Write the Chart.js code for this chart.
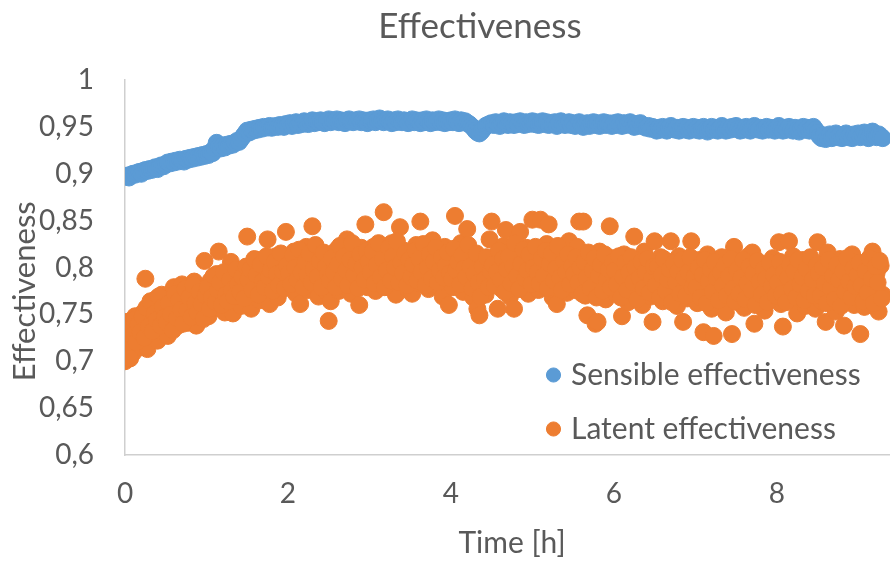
<!DOCTYPE html>
<html>
<head>
<meta charset="utf-8">
<title>Effectiveness</title>
<script src="https://cdn.jsdelivr.net/npm/chart.js@4/dist/chart.umd.min.js"></script>
<style>
  html, body { margin:0; padding:0; background:#fff; overflow:hidden; }
  #wrap { width:890px; height:563px; overflow:hidden; }
  canvas { display:block; }
</style>
</head>
<body>
<div id="wrap"><canvas id="effChart" width="960" height="563"></canvas></div>
<script>
// ── DATA ──────────────────────────────────────────────────
// time stamps [h], one reading every 1.5 min
const times = [
  0, 0.025, 0.05, 0.075, 0.1, 0.125, 0.15, 0.175, 0.2, 0.225, 0.25, 0.275, 0.3, 0.325, 0.35, 0.375, 0.4, 0.425, 0.45, 0.475,
  0.5, 0.525, 0.55, 0.575, 0.6, 0.625, 0.65, 0.675, 0.7, 0.725, 0.75, 0.775, 0.8, 0.825, 0.85, 0.875, 0.9, 0.925, 0.95, 0.975,
  1, 1.025, 1.05, 1.075, 1.1, 1.125, 1.15, 1.175, 1.2, 1.225, 1.25, 1.275, 1.3, 1.325, 1.35, 1.375, 1.4, 1.425, 1.45, 1.475,
  1.5, 1.525, 1.55, 1.575, 1.6, 1.625, 1.65, 1.675, 1.7, 1.725, 1.75, 1.775, 1.8, 1.825, 1.85, 1.875, 1.9, 1.925, 1.95, 1.975,
  2, 2.025, 2.05, 2.075, 2.1, 2.125, 2.15, 2.175, 2.2, 2.225, 2.25, 2.275, 2.3, 2.325, 2.35, 2.375, 2.4, 2.425, 2.45, 2.475,
  2.5, 2.525, 2.55, 2.575, 2.6, 2.625, 2.65, 2.675, 2.7, 2.725, 2.75, 2.775, 2.8, 2.825, 2.85, 2.875, 2.9, 2.925, 2.95, 2.975,
  3, 3.025, 3.05, 3.075, 3.1, 3.125, 3.15, 3.175, 3.2, 3.225, 3.25, 3.275, 3.3, 3.325, 3.35, 3.375, 3.4, 3.425, 3.45, 3.475,
  3.5, 3.525, 3.55, 3.575, 3.6, 3.625, 3.65, 3.675, 3.7, 3.725, 3.75, 3.775, 3.8, 3.825, 3.85, 3.875, 3.9, 3.925, 3.95, 3.975,
  4, 4.025, 4.05, 4.075, 4.1, 4.125, 4.15, 4.175, 4.2, 4.225, 4.25, 4.275, 4.3, 4.325, 4.35, 4.375, 4.4, 4.425, 4.45, 4.475,
  4.5, 4.525, 4.55, 4.575, 4.6, 4.625, 4.65, 4.675, 4.7, 4.725, 4.75, 4.775, 4.8, 4.825, 4.85, 4.875, 4.9, 4.925, 4.95, 4.975,
  5, 5.025, 5.05, 5.075, 5.1, 5.125, 5.15, 5.175, 5.2, 5.225, 5.25, 5.275, 5.3, 5.325, 5.35, 5.375, 5.4, 5.425, 5.45, 5.475,
  5.5, 5.525, 5.55, 5.575, 5.6, 5.625, 5.65, 5.675, 5.7, 5.725, 5.75, 5.775, 5.8, 5.825, 5.85, 5.875, 5.9, 5.925, 5.95, 5.975,
  6, 6.025, 6.05, 6.075, 6.1, 6.125, 6.15, 6.175, 6.2, 6.225, 6.25, 6.275, 6.3, 6.325, 6.35, 6.375, 6.4, 6.425, 6.45, 6.475,
  6.5, 6.525, 6.55, 6.575, 6.6, 6.625, 6.65, 6.675, 6.7, 6.725, 6.75, 6.775, 6.8, 6.825, 6.85, 6.875, 6.9, 6.925, 6.95, 6.975,
  7, 7.025, 7.05, 7.075, 7.1, 7.125, 7.15, 7.175, 7.2, 7.225, 7.25, 7.275, 7.3, 7.325, 7.35, 7.375, 7.4, 7.425, 7.45, 7.475,
  7.5, 7.525, 7.55, 7.575, 7.6, 7.625, 7.65, 7.675, 7.7, 7.725, 7.75, 7.775, 7.8, 7.825, 7.85, 7.875, 7.9, 7.925, 7.95, 7.975,
  8, 8.025, 8.05, 8.075, 8.1, 8.125, 8.15, 8.175, 8.2, 8.225, 8.25, 8.275, 8.3, 8.325, 8.35, 8.375, 8.4, 8.425, 8.45, 8.475,
  8.5, 8.525, 8.55, 8.575, 8.6, 8.625, 8.65, 8.675, 8.7, 8.725, 8.75, 8.775, 8.8, 8.825, 8.85, 8.875, 8.9, 8.925, 8.95, 8.975,
  9, 9.025, 9.05, 9.075, 9.1, 9.125, 9.15, 9.175, 9.2, 9.225, 9.25, 9.275, 9.3
];

const sensible = [
  0.897, 0.898, 0.896, 0.899, 0.900, 0.899, 0.901, 0.902, 0.900, 0.903, 0.904, 0.903, 0.905, 0.904, 0.906, 0.907, 0.905, 0.908, 0.909, 0.908,
  0.910, 0.912, 0.911, 0.913, 0.912, 0.914, 0.913, 0.915, 0.914, 0.913, 0.916, 0.915, 0.917, 0.916, 0.918, 0.917, 0.919, 0.918, 0.920, 0.919,
  0.921, 0.920, 0.923, 0.922, 0.927, 0.933, 0.929, 0.927, 0.930, 0.928, 0.931, 0.930, 0.932, 0.931, 0.933, 0.935, 0.934, 0.937, 0.940, 0.943,
  0.946, 0.944, 0.947, 0.946, 0.948, 0.947, 0.949, 0.948, 0.950, 0.949, 0.950, 0.951, 0.949, 0.950, 0.951, 0.950, 0.952, 0.951, 0.950, 0.953,
  0.952, 0.954, 0.951, 0.953, 0.955, 0.952, 0.954, 0.953, 0.956, 0.954, 0.953, 0.955, 0.957, 0.954, 0.956, 0.955, 0.957, 0.955, 0.954, 0.956,
  0.958, 0.955, 0.957, 0.956, 0.958, 0.955, 0.957, 0.956, 0.954, 0.957, 0.958, 0.956, 0.955, 0.957, 0.956, 0.958, 0.955, 0.957, 0.956, 0.954,
  0.957, 0.956, 0.958, 0.955, 0.957, 0.959, 0.956, 0.955, 0.957, 0.958, 0.956, 0.954, 0.957, 0.955, 0.958, 0.956, 0.955, 0.957, 0.956, 0.954,
  0.956, 0.958, 0.955, 0.957, 0.956, 0.954, 0.957, 0.955, 0.958, 0.956, 0.954, 0.957, 0.955, 0.956, 0.958, 0.955, 0.957, 0.954, 0.956, 0.955,
  0.957, 0.955, 0.958, 0.956, 0.954, 0.957, 0.955, 0.956, 0.954, 0.953, 0.951, 0.949, 0.946, 0.944, 0.943, 0.945, 0.948, 0.951, 0.952, 0.953,
  0.954, 0.952, 0.955, 0.953, 0.951, 0.954, 0.956, 0.953, 0.952, 0.955, 0.954, 0.952, 0.955, 0.953, 0.956, 0.954, 0.952, 0.955, 0.953, 0.954,
  0.956, 0.953, 0.955, 0.952, 0.954, 0.956, 0.953, 0.955, 0.952, 0.954, 0.953, 0.955, 0.951, 0.954, 0.956, 0.953, 0.952, 0.954, 0.955, 0.952,
  0.954, 0.951, 0.953, 0.955, 0.952, 0.950, 0.953, 0.954, 0.951, 0.953, 0.955, 0.952, 0.954, 0.951, 0.953, 0.955, 0.952, 0.954, 0.953, 0.951,
  0.954, 0.952, 0.955, 0.953, 0.951, 0.954, 0.952, 0.953, 0.955, 0.952, 0.950, 0.953, 0.951, 0.954, 0.952, 0.950, 0.949, 0.951, 0.948, 0.950,
  0.948, 0.946, 0.949, 0.947, 0.950, 0.948, 0.946, 0.949, 0.951, 0.948, 0.947, 0.949, 0.946, 0.948, 0.950, 0.947, 0.949, 0.946, 0.948, 0.950,
  0.947, 0.949, 0.946, 0.948, 0.950, 0.947, 0.945, 0.948, 0.950, 0.947, 0.949, 0.946, 0.948, 0.951, 0.948, 0.946, 0.949, 0.947, 0.950, 0.948,
  0.951, 0.948, 0.946, 0.949, 0.947, 0.950, 0.948, 0.946, 0.949, 0.951, 0.948, 0.947, 0.949, 0.946, 0.948, 0.950, 0.947, 0.949, 0.948, 0.946,
  0.949, 0.951, 0.948, 0.946, 0.949, 0.947, 0.950, 0.948, 0.946, 0.949, 0.947, 0.945, 0.948, 0.950, 0.947, 0.949, 0.946, 0.948, 0.950, 0.947,
  0.944, 0.940, 0.938, 0.941, 0.937, 0.939, 0.942, 0.938, 0.940, 0.943, 0.939, 0.941, 0.938, 0.940, 0.943, 0.939, 0.941, 0.938, 0.942, 0.940,
  0.943, 0.939, 0.941, 0.944, 0.940, 0.938, 0.942, 0.945, 0.941, 0.939, 0.942, 0.940, 0.938
];

const latent = [
  0.700, 0.742, 0.718, 0.731, 0.709, 0.748, 0.726, 0.737, 0.715, 0.752, 0.788, 0.713, 0.741, 0.758, 0.729, 0.766, 0.722, 0.749, 0.771, 0.736,
  0.752, 0.727, 0.768, 0.744, 0.779, 0.757, 0.738, 0.771, 0.782, 0.749, 0.763, 0.741, 0.776, 0.758, 0.785, 0.738, 0.767, 0.751, 0.779, 0.807,
  0.762, 0.748, 0.786, 0.771, 0.757, 0.793, 0.817, 0.765, 0.779, 0.752, 0.788, 0.772, 0.806, 0.751, 0.783, 0.766, 0.797, 0.759, 0.781, 0.792,
  0.833, 0.772, 0.756, 0.796, 0.781, 0.808, 0.765, 0.789, 0.801, 0.774, 0.830, 0.761, 0.794, 0.783, 0.812, 0.768, 0.799, 0.786, 0.807, 0.838,
  0.779, 0.805, 0.791, 0.817, 0.772, 0.798, 0.761, 0.809, 0.785, 0.822, 0.776, 0.803, 0.844, 0.788, 0.814, 0.769, 0.797, 0.782, 0.811, 0.774,
  0.743, 0.764, 0.801, 0.787, 0.819, 0.775, 0.796, 0.808, 0.782, 0.830, 0.791, 0.772, 0.815, 0.799, 0.784, 0.760, 0.821, 0.793, 0.846, 0.779,
  0.806, 0.788, 0.822, 0.775, 0.811, 0.797, 0.783, 0.859, 0.814, 0.779, 0.802, 0.826, 0.791, 0.771, 0.809, 0.843, 0.786, 0.818, 0.798, 0.776,
  0.812, 0.772, 0.795, 0.824, 0.783, 0.849, 0.806, 0.789, 0.817, 0.777, 0.801, 0.829, 0.792, 0.781, 0.813, 0.798, 0.769, 0.822, 0.787, 0.760,
  0.803, 0.779, 0.855, 0.815, 0.791, 0.826, 0.774, 0.808, 0.841, 0.786, 0.812, 0.768, 0.797, 0.756, 0.749, 0.782, 0.805, 0.771, 0.793, 0.830,
  0.849, 0.788, 0.812, 0.756, 0.801, 0.777, 0.823, 0.840, 0.794, 0.769, 0.816, 0.756, 0.785, 0.808, 0.838, 0.779, 0.799, 0.821, 0.772, 0.806,
  0.851, 0.789, 0.814, 0.776, 0.851, 0.802, 0.783, 0.825, 0.846, 0.792, 0.768, 0.811, 0.761, 0.797, 0.819, 0.781, 0.805, 0.773, 0.828, 0.790,
  0.808, 0.776, 0.822, 0.849, 0.795, 0.849, 0.770, 0.749, 0.813, 0.786, 0.799, 0.740, 0.742, 0.817, 0.781, 0.803, 0.766, 0.791, 0.844, 0.810,
  0.785, 0.772, 0.806, 0.793, 0.748, 0.814, 0.779, 0.763, 0.799, 0.787, 0.833, 0.771, 0.808, 0.792, 0.760, 0.817, 0.783, 0.797, 0.769, 0.742,
  0.828, 0.790, 0.775, 0.811, 0.764, 0.798, 0.782, 0.806, 0.828, 0.771, 0.793, 0.759, 0.812, 0.780, 0.742, 0.801, 0.767, 0.789, 0.828, 0.776,
  0.795, 0.762, 0.808, 0.784, 0.731, 0.773, 0.814, 0.791, 0.756, 0.727, 0.803, 0.779, 0.766, 0.811, 0.787, 0.752, 0.798, 0.774, 0.729, 0.822,
  0.788, 0.763, 0.806, 0.781, 0.757, 0.797, 0.812, 0.770, 0.816, 0.740, 0.791, 0.765, 0.804, 0.779, 0.754, 0.799, 0.786, 0.768, 0.810, 0.775,
  0.793, 0.827, 0.761, 0.737, 0.802, 0.779, 0.828, 0.766, 0.812, 0.788, 0.751, 0.797, 0.773, 0.808, 0.759, 0.784, 0.801, 0.769, 0.792, 0.756,
  0.827, 0.781, 0.764, 0.805, 0.742, 0.816, 0.789, 0.771, 0.798, 0.753, 0.784, 0.809, 0.767, 0.738, 0.795, 0.776, 0.803, 0.814, 0.760, 0.787,
  0.772, 0.729, 0.799, 0.758, 0.785, 0.807, 0.766, 0.817, 0.779, 0.794, 0.753, 0.802, 0.771
];

// the latent probe also logs halfway between the common stamps
const timesMid = [
  0.0125, 0.0375, 0.0625, 0.0875, 0.1125, 0.1375, 0.1625, 0.1875, 0.2125, 0.2375, 0.2625, 0.2875, 0.3125, 0.3375, 0.3625, 0.3875, 0.4125, 0.4375, 0.4625, 0.4875,
  0.5125, 0.5375, 0.5625, 0.5875, 0.6125, 0.6375, 0.6625, 0.6875, 0.7125, 0.7375, 0.7625, 0.7875, 0.8125, 0.8375, 0.8625, 0.8875, 0.9125, 0.9375, 0.9625, 0.9875,
  1.0125, 1.0375, 1.0625, 1.0875, 1.1125, 1.1375, 1.1625, 1.1875, 1.2125, 1.2375, 1.2625, 1.2875, 1.3125, 1.3375, 1.3625, 1.3875, 1.4125, 1.4375, 1.4625, 1.4875,
  1.5125, 1.5375, 1.5625, 1.5875, 1.6125, 1.6375, 1.6625, 1.6875, 1.7125, 1.7375, 1.7625, 1.7875, 1.8125, 1.8375, 1.8625, 1.8875, 1.9125, 1.9375, 1.9625, 1.9875,
  2.0125, 2.0375, 2.0625, 2.0875, 2.1125, 2.1375, 2.1625, 2.1875, 2.2125, 2.2375, 2.2625, 2.2875, 2.3125, 2.3375, 2.3625, 2.3875, 2.4125, 2.4375, 2.4625, 2.4875,
  2.5125, 2.5375, 2.5625, 2.5875, 2.6125, 2.6375, 2.6625, 2.6875, 2.7125, 2.7375, 2.7625, 2.7875, 2.8125, 2.8375, 2.8625, 2.8875, 2.9125, 2.9375, 2.9625, 2.9875,
  3.0125, 3.0375, 3.0625, 3.0875, 3.1125, 3.1375, 3.1625, 3.1875, 3.2125, 3.2375, 3.2625, 3.2875, 3.3125, 3.3375, 3.3625, 3.3875, 3.4125, 3.4375, 3.4625, 3.4875,
  3.5125, 3.5375, 3.5625, 3.5875, 3.6125, 3.6375, 3.6625, 3.6875, 3.7125, 3.7375, 3.7625, 3.7875, 3.8125, 3.8375, 3.8625, 3.8875, 3.9125, 3.9375, 3.9625, 3.9875,
  4.0125, 4.0375, 4.0625, 4.0875, 4.1125, 4.1375, 4.1625, 4.1875, 4.2125, 4.2375, 4.2625, 4.2875, 4.3125, 4.3375, 4.3625, 4.3875, 4.4125, 4.4375, 4.4625, 4.4875,
  4.5125, 4.5375, 4.5625, 4.5875, 4.6125, 4.6375, 4.6625, 4.6875, 4.7125, 4.7375, 4.7625, 4.7875, 4.8125, 4.8375, 4.8625, 4.8875, 4.9125, 4.9375, 4.9625, 4.9875,
  5.0125, 5.0375, 5.0625, 5.0875, 5.1125, 5.1375, 5.1625, 5.1875, 5.2125, 5.2375, 5.2625, 5.2875, 5.3125, 5.3375, 5.3625, 5.3875, 5.4125, 5.4375, 5.4625, 5.4875,
  5.5125, 5.5375, 5.5625, 5.5875, 5.6125, 5.6375, 5.6625, 5.6875, 5.7125, 5.7375, 5.7625, 5.7875, 5.8125, 5.8375, 5.8625, 5.8875, 5.9125, 5.9375, 5.9625, 5.9875,
  6.0125, 6.0375, 6.0625, 6.0875, 6.1125, 6.1375, 6.1625, 6.1875, 6.2125, 6.2375, 6.2625, 6.2875, 6.3125, 6.3375, 6.3625, 6.3875, 6.4125, 6.4375, 6.4625, 6.4875,
  6.5125, 6.5375, 6.5625, 6.5875, 6.6125, 6.6375, 6.6625, 6.6875, 6.7125, 6.7375, 6.7625, 6.7875, 6.8125, 6.8375, 6.8625, 6.8875, 6.9125, 6.9375, 6.9625, 6.9875,
  7.0125, 7.0375, 7.0625, 7.0875, 7.1125, 7.1375, 7.1625, 7.1875, 7.2125, 7.2375, 7.2625, 7.2875, 7.3125, 7.3375, 7.3625, 7.3875, 7.4125, 7.4375, 7.4625, 7.4875,
  7.5125, 7.5375, 7.5625, 7.5875, 7.6125, 7.6375, 7.6625, 7.6875, 7.7125, 7.7375, 7.7625, 7.7875, 7.8125, 7.8375, 7.8625, 7.8875, 7.9125, 7.9375, 7.9625, 7.9875,
  8.0125, 8.0375, 8.0625, 8.0875, 8.1125, 8.1375, 8.1625, 8.1875, 8.2125, 8.2375, 8.2625, 8.2875, 8.3125, 8.3375, 8.3625, 8.3875, 8.4125, 8.4375, 8.4625, 8.4875,
  8.5125, 8.5375, 8.5625, 8.5875, 8.6125, 8.6375, 8.6625, 8.6875, 8.7125, 8.7375, 8.7625, 8.7875, 8.8125, 8.8375, 8.8625, 8.8875, 8.9125, 8.9375, 8.9625, 8.9875,
  9.0125, 9.0375, 9.0625, 9.0875, 9.1125, 9.1375, 9.1625, 9.1875, 9.2125, 9.2375, 9.2625, 9.2875
];

const latentMid = [
  0.712, 0.735, 0.703, 0.727, 0.744, 0.720, 0.739, 0.731, 0.748, 0.725, 0.757, 0.737, 0.764, 0.732, 0.751, 0.744, 0.769, 0.738, 0.758, 0.747,
  0.741, 0.762, 0.750, 0.733, 0.772, 0.746, 0.765, 0.755, 0.740, 0.777, 0.754, 0.768, 0.747, 0.781, 0.762, 0.752, 0.774, 0.761, 0.745, 0.770,
  0.779, 0.756, 0.768, 0.791, 0.763, 0.776, 0.784, 0.760, 0.795, 0.771, 0.764, 0.787, 0.776, 0.769, 0.798, 0.782, 0.774, 0.790, 0.767, 0.801,
  0.787, 0.798, 0.776, 0.809, 0.792, 0.771, 0.803, 0.785, 0.779, 0.812, 0.790, 0.797, 0.775, 0.806, 0.793, 0.781, 0.815, 0.796, 0.778, 0.802,
  0.794, 0.782, 0.813, 0.800, 0.787, 0.819, 0.795, 0.779, 0.806, 0.792, 0.815, 0.784, 0.798, 0.824, 0.790, 0.807, 0.779, 0.816, 0.801, 0.793,
  0.786, 0.810, 0.795, 0.779, 0.803, 0.823, 0.788, 0.812, 0.797, 0.781, 0.808, 0.826, 0.792, 0.804, 0.778, 0.814, 0.800, 0.787, 0.818, 0.806,
  0.795, 0.817, 0.783, 0.803, 0.826, 0.790, 0.809, 0.779, 0.797, 0.821, 0.786, 0.812, 0.800, 0.828, 0.784, 0.805, 0.794, 0.815, 0.781, 0.808,
  0.790, 0.803, 0.818, 0.786, 0.809, 0.795, 0.825, 0.781, 0.800, 0.814, 0.788, 0.806, 0.821, 0.784, 0.797, 0.811, 0.789, 0.802, 0.816, 0.794,
  0.788, 0.820, 0.797, 0.806, 0.782, 0.813, 0.799, 0.790, 0.824, 0.801, 0.778, 0.793, 0.815, 0.784, 0.769, 0.801, 0.787, 0.811, 0.779, 0.796,
  0.803, 0.781, 0.795, 0.818, 0.787, 0.809, 0.774, 0.798, 0.812, 0.783, 0.801, 0.826, 0.791, 0.777, 0.804, 0.819, 0.788, 0.797, 0.814, 0.782,
  0.800, 0.822, 0.795, 0.783, 0.810, 0.791, 0.818, 0.778, 0.804, 0.815, 0.786, 0.799, 0.823, 0.789, 0.776, 0.807, 0.795, 0.814, 0.782, 0.801,
  0.793, 0.811, 0.784, 0.800, 0.772, 0.806, 0.789, 0.816, 0.778, 0.797, 0.810, 0.768, 0.791, 0.803, 0.775, 0.814, 0.787, 0.798, 0.779, 0.806,
  0.797, 0.782, 0.812, 0.768, 0.790, 0.805, 0.776, 0.795, 0.811, 0.784, 0.800, 0.766, 0.789, 0.806, 0.778, 0.795, 0.809, 0.773, 0.788, 0.801,
  0.781, 0.801, 0.768, 0.792, 0.809, 0.775, 0.787, 0.798, 0.763, 0.805, 0.784, 0.796, 0.772, 0.808, 0.789, 0.770, 0.795, 0.811, 0.779, 0.790,
  0.779, 0.800, 0.768, 0.792, 0.808, 0.762, 0.785, 0.798, 0.774, 0.806, 0.789, 0.765, 0.795, 0.781, 0.803, 0.770, 0.791, 0.809, 0.777, 0.764,
  0.797, 0.772, 0.789, 0.808, 0.766, 0.783, 0.801, 0.776, 0.794, 0.760, 0.807, 0.785, 0.771, 0.798, 0.788, 0.763, 0.805, 0.780, 0.792, 0.770,
  0.784, 0.806, 0.772, 0.795, 0.763, 0.789, 0.803, 0.777, 0.796, 0.768, 0.808, 0.782, 0.790, 0.765, 0.799, 0.775, 0.811, 0.787, 0.770, 0.802,
  0.794, 0.770, 0.800, 0.783, 0.762, 0.808, 0.778, 0.791, 0.766, 0.803, 0.787, 0.759, 0.796, 0.774, 0.810, 0.785, 0.768, 0.799, 0.780, 0.792,
  0.805, 0.781, 0.764, 0.796, 0.773, 0.810, 0.788, 0.762, 0.801, 0.784, 0.807, 0.767
];

const xTicks = [0, 2, 4, 6, 8];
const yTicks = [0.6, 0.65, 0.7, 0.75, 0.8, 0.85, 0.9, 0.95, 1];

// ── STYLE ─────────────────────────────────────────────────
const BLUE   = '#5B9BD5';
const ORANGE = '#ED7D31';
const INK    = '#595959';
const AXIS   = '#CFCFCF';
const FONT   = 'Lato, "Open Sans", sans-serif';

const pairs = (ts, ys) => ts.map((t, i) => ({ x: t, y: ys[i] }));
const comma = v => String(v).replace('.', ',');

// legend sits inside the plot, lower right
const legendInPlot = {
  id: 'legendInPlot',
  afterLayout(chart) {
    const lg = chart.legend;
    lg.left = 527;
    lg.top = 336;
    lg.right = lg.left + lg.width;
    lg.bottom = lg.top + lg.height;
  }
};

const ctx = document.getElementById('effChart').getContext('2d');
new Chart(ctx, {
  type: 'scatter',
  data: {
    datasets: [
      {
        label: 'Sensible effectiveness',
        data: pairs(times, sensible),
        backgroundColor: BLUE,
        borderColor: BLUE,
        borderWidth: 1,
        pointRadius: 8.5,
        pointHoverRadius: 8.5
      },
      {
        label: 'Latent effectiveness',
        data: pairs(times, latent).concat(pairs(timesMid, latentMid)),
        backgroundColor: ORANGE,
        borderColor: ORANGE,
        borderWidth: 1,
        pointRadius: 8.5,
        pointHoverRadius: 8.5
      }
    ]
  },
  options: {
    responsive: false,
    animation: false,
    devicePixelRatio: 1,
    layout: { padding: 0 },
    plugins: {
      title: {
        display: true,
        text: 'Effectiveness',
        color: INK,
        font: { family: FONT, size: 35, weight: 'normal' },
        padding: { top: 6, bottom: 32 }
      },
      legend: {
        position: 'chartArea',
        align: 'start',
        labels: {
          usePointStyle: true,
          pointStyle: 'circle',
          boxWidth: 5,
          boxHeight: 10,
          padding: 24,
          color: INK,
          font: { family: FONT, size: 30 }
        }
      },
      tooltip: { enabled: false }
    },
    scales: {
      x: {
        type: 'linear',
        min: 0,
        max: 9.5,
        afterBuildTicks: s => { s.ticks = xTicks.map(v => ({ value: v })); },
        afterFit: s => { s.height = 108; },
        grid: { display: false, drawTicks: false, tickLength: 0 },
        border: { display: true, color: AXIS, width: 1.5 },
        ticks: { color: INK, padding: 22, font: { family: FONT, size: 28 } },
        title: {
          display: true,
          text: 'Time [h]',
          color: INK,
          font: { family: FONT, size: 30 },
          padding: { top: 0, bottom: 2 }
        }
      },
      y: {
        min: 0.6,
        max: 1,
        afterBuildTicks: s => { s.ticks = yTicks.map(v => ({ value: v })); },
        afterFit: s => { s.width = 125; },
        grid: { display: false, drawTicks: false, tickLength: 0 },
        border: { display: true, color: AXIS, width: 1.5 },
        ticks: { color: INK, padding: 31, font: { family: FONT, size: 28 }, callback: v => comma(v) },
        title: {
          display: true,
          text: 'Effectiveness      ',
          color: INK,
          font: { family: FONT, size: 31 },
          padding: { top: 6, bottom: 0 }
        }
      },
      // empty margin to the right of the plot
      gap: {
        position: 'right',
        afterFit: s => { s.width = 61; },
        grid: { display: false, drawTicks: false },
        border: { display: false },
        ticks: { display: false }
      }
    }
  },
  plugins: [legendInPlot]
});
</script>
</body>
</html>
